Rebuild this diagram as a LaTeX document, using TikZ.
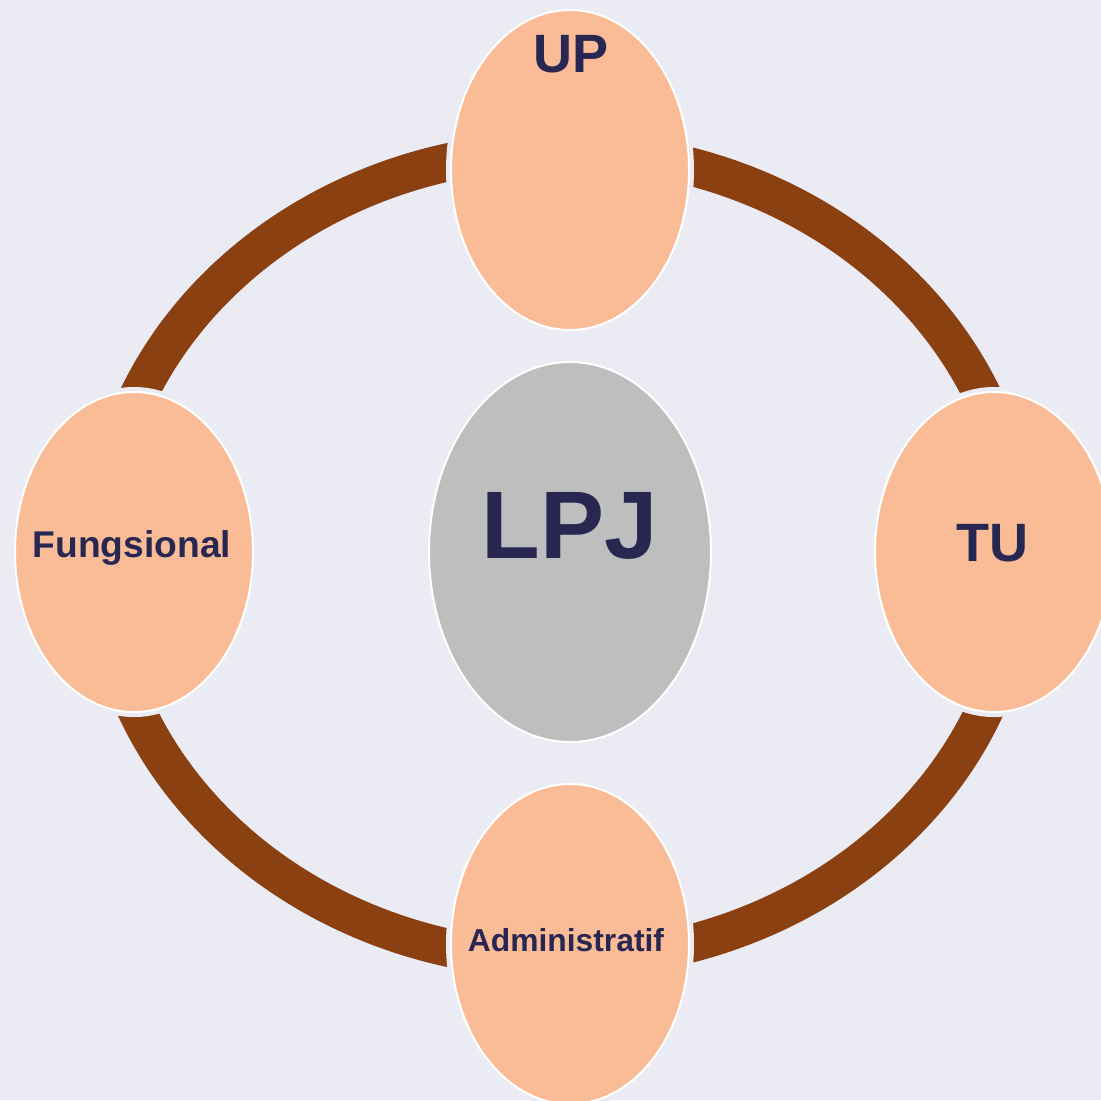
\documentclass[tikz,border=0pt]{standalone}
\usepackage{fontspec}
\setmainfont{Liberation Sans}
\usetikzlibrary{shapes.geometric}
\definecolor{bgcol}{HTML}{EBEBF4}
\definecolor{petalcol}{HTML}{F9BC96}
\definecolor{ringcol}{HTML}{8B4011}
\definecolor{hubcol}{HTML}{BEBEBE}
\definecolor{inkcol}{HTML}{272752}
\begin{document}
\begin{tikzpicture}[x=0.5pt,y=-0.5pt,
  petal/.style={ellipse, fill=petalcol, draw=white, line width=1pt,
    preaction={draw=bgcol, line width=5pt},
    minimum width=119pt, minimum height=160pt, inner sep=0pt},
  hub/.style={ellipse, fill=hubcol, draw=white, line width=1pt,
    minimum width=141pt, minimum height=190pt, inner sep=0pt},
  ring/.style={draw=ringcol, line width=19pt},
  caption/.style={text=inkcol, font=\bfseries, anchor=base, inner sep=0pt}]
  \useasboundingbox[fill=bgcol] (0,0) rectangle (1101,1100);
  \coordinate (ringc) at (560.5,555);
  \draw[ring] (ringc) ellipse [x radius=229.5pt, y radius=202.5pt];
  \node[petal] (up) at (570,170) {};
  \node[petal] (tu) at (994,552) {};
  \node[petal] (fung) at (134,552) {};
  \node[petal] (adm) at (570,944) {};
  \node[hub] (lpj) at (570,552) {};
  \node[caption, font=\bfseries\fontsize{27}{27}\selectfont] (uptext) at (571,72) {UP};
  \node[caption, font=\bfseries\fontsize{27}{27}\selectfont] (tutext) at (992,561) {TU};
  \node[caption, font=\bfseries\fontsize{18.6}{18.6}\selectfont] (fungtext) at (132,557) {Fungsional};
  \node[caption, font=\bfseries\fontsize{15.9}{15.9}\selectfont] (admtext) at (566,951) {Administratif};
  \node[caption, font=\bfseries\fontsize{48}{48}\selectfont] (lpjtext) at (570,558) {LPJ};
\end{tikzpicture}
\end{document}
